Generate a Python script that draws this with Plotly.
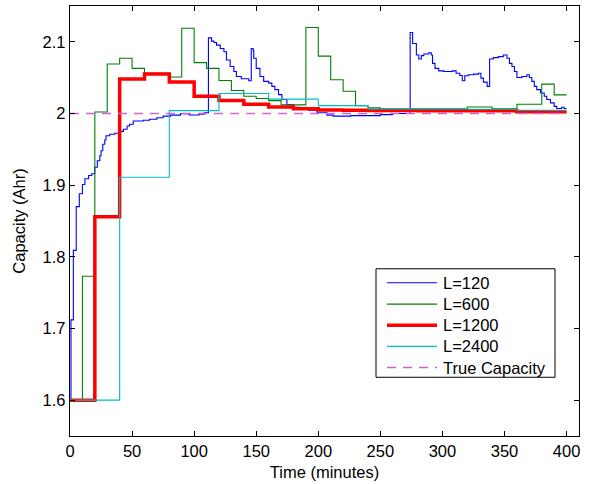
import plotly.graph_objects as go

# ---------------- data (minutes, Ahr) ----------------
blue_t = [0, 0.8, 2.7, 5, 7.5, 10, 12, 15, 17.5, 20, 22, 24, 25, 26.4, 28, 29,
          32, 36, 40, 43, 46, 48, 51, 59, 64, 70, 75, 81, 89, 96, 104, 108,
          111.5, 114, 116, 118, 121, 124, 126, 129, 132, 134, 138, 144,
          146, 147.5, 148, 150, 153, 156, 160, 162.6, 165, 168, 170.7, 174.7,
          180, 185.5, 192, 199, 207, 212, 226, 250, 260,
          274, 276, 279, 281, 283, 285, 289, 291, 292, 294, 297, 301, 308, 311,
          314, 316, 318, 321, 325, 329, 331, 333, 336, 338, 341, 345, 349, 352,
          354, 356, 358, 360, 364, 368, 370, 372, 374, 376, 379, 382, 384, 387,
          390, 392, 396, 398, 400]
blue_v = [1.600, 1.712, 1.809, 1.870, 1.888, 1.901, 1.909, 1.9135, 1.916, 1.925,
          1.934, 1.941, 1.948, 1.957, 1.963, 1.969,
          1.971, 1.9725, 1.975, 1.978, 1.9826, 1.985, 1.9895, 1.9905, 1.992,
          1.994, 1.9964, 1.9978, 1.9996, 1.998, 1.999, 2.001,
          2.1055, 2.101, 2.099, 2.0954, 2.0908, 2.0862, 2.0747, 2.0655, 2.0586,
          2.0517, 2.0485, 2.0457,
          2.0908, 2.0885, 2.077, 2.063, 2.0517, 2.0448, 2.0424, 2.0378, 2.0333,
          2.0264, 2.0195, 2.0126,
          2.0088, 2.0065, 2.0047, 2.001, 1.9978, 1.9964, 1.997, 1.9985, 2.000,
          2.113, 2.0977, 2.0816, 2.076, 2.0807, 2.083, 2.0848, 2.0816, 2.070,
          2.063, 2.0595, 2.0586, 2.0595, 2.0562,
          2.053, 2.0457, 2.0526, 2.054, 2.0549, 2.0562, 2.0493, 2.0438, 2.0378,
          2.076, 2.0779, 2.0793, 2.0816, 2.077,
          2.070, 2.0655, 2.0586, 2.0503, 2.0517, 2.054, 2.0503, 2.0448, 2.0378,
          2.0333, 2.0286, 2.024, 2.0195, 2.0148,
          2.010, 2.007, 2.0088, 2.007, 2.007]

green_t = [0, 10, 20, 30, 40, 50, 60, 70, 80, 90, 100, 110, 120, 130, 140, 150,
           160, 170, 180, 190, 200, 210, 220, 230, 240, 250, 260, 270, 280, 290,
           300, 310, 320, 330, 340, 350, 360, 370, 380, 390, 400]
green_v = [1.600, 1.773, 2.002, 2.069, 2.077, 2.063, 2.056, 2.056, 2.051, 2.119,
           2.071, 2.063, 2.046, 2.032, 2.024, 2.021, 2.018, 2.012, 2.012, 2.120,
           2.080, 2.047, 2.031, 2.011, 2.008, 2.0065, 2.0065, 2.0065, 2.0065,
           2.0065, 2.0065, 2.0065, 2.009, 2.009, 2.0065, 2.0065, 2.013, 2.013,
           2.041, 2.026, 2.026]

red_t = [0, 20, 40, 60, 80, 100, 120, 140, 160, 180, 200, 220, 240, 260, 280,
         300, 320, 340, 360, 380, 400]
red_v = [1.600, 1.856, 2.048, 2.055, 2.044, 2.024, 2.018, 2.013, 2.009, 2.0065,
         2.005, 2.0045, 2.0042, 2.0042, 2.004, 2.004, 2.004, 2.004, 2.0025,
         2.0025, 2.0025]

cyan_t = [0, 40, 80, 120, 160, 200, 240, 280, 320, 360, 400]
cyan_v = [1.600, 1.911, 2.004, 2.028, 2.020, 2.011, 2.0065, 2.0065, 2.006,
          2.0045, 2.0045]

true_t = [0, 400]
true_v = [2.0, 2.0]

series_names = ["L=120", "L=600", "L=1200", "L=2400", "True Capacity"]
series_colors = ["rgb(0,0,255)", "rgb(0,128,0)", "rgb(255,0,0)", "rgb(0,191,191)",
                 "rgb(204,102,204)"]
series_widths = [1.1, 1.1, 3.5, 1.1, 1.5]
series_dash = ["solid", "solid", "solid", "solid", "9px,7px"]

x_ticks = [0, 50, 100, 150, 200, 250, 300, 350, 400]
y_ticks = [1.6, 1.7, 1.8, 1.9, 2.0, 2.1]
y_tick_text = ["1.6", "1.7", "1.8", "1.9", "2", "2.1"]

FONT = "Liberation Sans, Arial, Helvetica, sans-serif"
FS = 16.5

fig = go.Figure()
all_t = [blue_t, green_t, red_t, cyan_t, true_t]
all_v = [blue_v, green_v, red_v, cyan_v, true_v]
for i in range(5):
    fig.add_trace(go.Scatter(
        x=all_t[i], y=all_v[i], mode="lines", name=series_names[i],
        line=dict(color=series_colors[i], width=series_widths[i],
                  shape="hv" if i < 4 else "linear", dash=series_dash[i]),
        showlegend=False))

axis_common = dict(showline=True, linecolor="black", linewidth=1.3, mirror="ticks",
                   ticks="inside", ticklen=5, tickcolor="black", tickwidth=1,
                   showgrid=False, zeroline=False,
                   tickfont=dict(family=FONT, size=FS, color="black"))

# ---- legend box drawn in paper coordinates (plot area: 509 x 432 px) ----
PW, PH = 509.0, 432.0
def px_x(p):
    return (p - 70) / PW
def px_y(p):
    return 1 - (p - 5) / PH

shapes = [dict(type="rect", xref="paper", yref="paper",
               x0=px_x(376), x1=px_x(555), y0=px_y(378), y1=px_y(269),
               line=dict(color="black", width=1), fillcolor="white", layer="above")]
annotations = []
row_y = [283, 304.5, 325.8, 347, 368.2]
for i in range(5):
    shapes.append(dict(type="line", xref="paper", yref="paper",
                       x0=px_x(387), x1=px_x(437), y0=px_y(row_y[i]), y1=px_y(row_y[i]),
                       line=dict(color=series_colors[i], width=series_widths[i],
                                 dash=series_dash[i]), layer="above"))
    annotations.append(dict(xref="paper", yref="paper", x=px_x(441), y=px_y(row_y[i]),
                            xanchor="left", yanchor="middle", showarrow=False,
                            text=series_names[i],
                            font=dict(family=FONT, size=FS, color="black")))

fig.update_layout(
    width=599, height=484,
    margin=dict(l=70, r=20, t=5, b=47),
    paper_bgcolor="white", plot_bgcolor="white",
    font=dict(family=FONT, size=FS, color="black"),
    xaxis=dict(range=[0, 410], tickvals=x_ticks,
               title=dict(text="Time (minutes)", font=dict(family=FONT, size=FS), standoff=7),
               **axis_common),
    yaxis=dict(range=[1.55, 2.15], tickvals=y_ticks, ticktext=y_tick_text,
               title=dict(text="Capacity (Ahr)", font=dict(family=FONT, size=FS), standoff=12),
               **axis_common),
    shapes=shapes,
    annotations=annotations,
    showlegend=False,
)

fig.write_html("out.html")
